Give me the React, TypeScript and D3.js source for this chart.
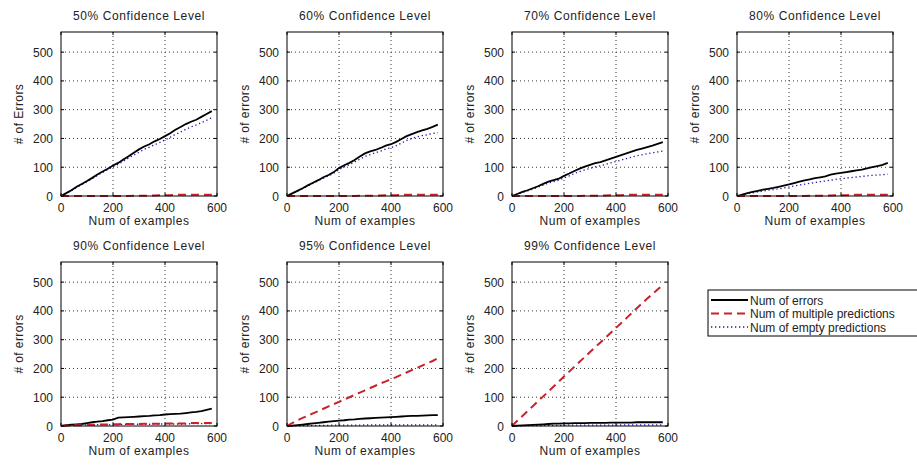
import React from "react";
import * as d3 from "d3";

// x positions (number of examples)
const examples = d3.range(0, 600, 20);

const levels = ["50%", "60%", "70%", "80%", "90%", "95%", "99%"];
const yLabels = ["# of Errors", "# of errors", "# of errors", "# of errors", "# of errors", "# of errors", "# of errors"];

const errors50 = [0, 10, 20, 32, 42, 52, 63, 75, 85, 95, 106, 115, 127, 138, 150, 162, 172, 180, 190, 198, 208, 218, 230, 240, 250, 258, 265, 275, 285, 295];
const multiple50 = [0, 0, 0, 0, 0, 0, 0, 0, 0, 0, 0, 0, 0, 0, 1, 1, 1, 1, 2, 3, 3, 3, 4, 4, 4, 4, 4, 4, 4, 4];
const empty50 = [0, 9, 19, 30, 40, 50, 60, 72, 82, 92, 102, 110, 121, 132, 142, 152, 162, 170, 178, 186, 195, 204, 214, 222, 232, 240, 247, 255, 263, 272];

const errors60 = [0, 9, 18, 27, 37, 46, 55, 65, 73, 83, 97, 107, 115, 125, 137, 148, 155, 160, 167, 175, 180, 188, 198, 208, 215, 222, 228, 233, 240, 248];
const multiple60 = [0, 0, 0, 0, 0, 0, 0, 0, 0, 0, 0, 0, 0, 0, 1, 1, 1, 1, 2, 3, 3, 3, 4, 4, 4, 4, 4, 4, 4, 4];
const empty60 = [0, 8, 17, 26, 35, 44, 53, 62, 70, 79, 92, 101, 109, 118, 128, 137, 144, 150, 156, 163, 168, 175, 184, 193, 200, 206, 210, 213, 217, 220];

const errors70 = [0, 7, 14, 20, 27, 34, 42, 50, 55, 60, 70, 78, 87, 95, 102, 108, 114, 118, 124, 130, 136, 142, 148, 154, 160, 165, 170, 175, 181, 187];
const multiple70 = [0, 0, 0, 0, 0, 0, 0, 0, 0, 0, 0, 0, 0, 0, 1, 1, 1, 1, 2, 3, 3, 3, 4, 4, 4, 4, 4, 4, 4, 4];
const empty70 = [0, 6, 12, 18, 24, 31, 38, 45, 50, 55, 63, 70, 78, 85, 91, 96, 101, 105, 110, 115, 120, 125, 130, 135, 140, 143, 147, 150, 153, 156];

const errors80 = [0, 5, 10, 14, 18, 22, 25, 28, 32, 36, 40, 45, 50, 54, 58, 62, 65, 68, 74, 78, 80, 83, 86, 89, 92, 96, 100, 104, 108, 115];
const multiple80 = [0, 0, 0, 0, 0, 0, 0, 0, 0, 0, 0, 0, 0, 0, 1, 1, 1, 1, 2, 3, 3, 3, 4, 4, 4, 4, 4, 4, 4, 4];
const empty80 = [0, 4, 8, 11, 14, 17, 20, 22, 25, 28, 31, 35, 38, 41, 44, 47, 50, 52, 55, 58, 60, 62, 64, 66, 68, 70, 72, 73, 74, 76];

const errors90 = [0, 3, 5, 6, 7, 10, 13, 15, 17, 20, 22, 29, 30, 31, 32, 33, 34, 35, 37, 38, 40, 41, 42, 43, 45, 47, 49, 52, 56, 60];
const multiple90 = [0, 1, 2, 3, 3, 4, 4, 5, 5, 5, 6, 6, 7, 7, 7, 7, 8, 8, 8, 8, 9, 9, 9, 9, 9, 10, 10, 10, 10, 10];
const empty90 = [0, 1, 2, 3, 4, 4, 4, 5, 5, 5, 5, 5, 6, 6, 6, 6, 6, 6, 7, 7, 7, 7, 7, 7, 7, 8, 8, 8, 8, 8];

const errors95 = [0, 1, 3, 5, 7, 9, 11, 13, 15, 17, 19, 20, 22, 23, 25, 26, 27, 28, 29, 30, 31, 32, 33, 34, 35, 35, 36, 37, 38, 38];
const multiple95 = [0, 10, 20, 28, 36, 44, 52, 60, 68, 76, 84, 92, 100, 108, 116, 124, 132, 140, 148, 155, 163, 170, 178, 186, 194, 202, 210, 218, 226, 235];
const empty95 = [0, 0, 1, 1, 1, 2, 2, 2, 2, 3, 3, 3, 3, 3, 3, 4, 4, 4, 4, 4, 4, 4, 4, 4, 4, 4, 4, 4, 4, 4];

const errors99 = [0, 1, 2, 3, 4, 5, 6, 7, 8, 8, 9, 9, 10, 10, 10, 11, 11, 11, 11, 12, 12, 12, 12, 12, 13, 13, 13, 13, 13, 13];
const multiple99 = [0, 18, 35, 52, 69, 86, 103, 120, 137, 154, 172, 189, 206, 223, 240, 257, 274, 290, 307, 324, 341, 358, 375, 392, 409, 426, 443, 458, 474, 490];
const empty99 = [0, 0, 1, 1, 1, 1, 2, 2, 2, 2, 2, 3, 3, 3, 3, 3, 3, 3, 3, 3, 3, 4, 4, 4, 4, 4, 4, 4, 4, 4];

const errorSeries = [errors50, errors60, errors70, errors80, errors90, errors95, errors99];
const multipleSeries = [multiple50, multiple60, multiple70, multiple80, multiple90, multiple95, multiple99];
const emptySeries = [empty50, empty60, empty70, empty80, empty90, empty95, empty99];

const legendLabels = ["Num of errors", "Num of multiple predictions", "Num of empty predictions"];
const xTicks = [0, 200, 400, 600];
const yTicks = [0, 100, 200, 300, 400, 500];

const font = "'Liberation Sans', Arial, sans-serif";
const styles = [
  { stroke: "#000", width: 1.8, dash: "none" },
  { stroke: "#c8232c", width: 2, dash: "8,5" },
  { stroke: "#1c1ca8", width: 1.3, dash: "1.3,2.7" },
];

const lefts = [61, 287, 512, 737];
const tops = [32, 262];
const W = 156;
const H = 164;

function Panel({ i }: { i: number }) {
  const left = lefts[i % 4];
  const top = tops[Math.floor(i / 4)];
  const x = d3.scaleLinear().domain([0, 600]).range([0, W]);
  const y = d3.scaleLinear().domain([0, 570]).range([H, 0]);
  const series = [errorSeries[i], multipleSeries[i], emptySeries[i]];
  const line = d3
    .line<number>()
    .x((_, k) => x(examples[k]))
    .y((v) => y(v));
  return (
    <g transform={`translate(${left},${top})`} fontFamily={font} fontSize={12} fill="#222">
      <rect width={W} height={H} fill="#fff" />
      {xTicks.slice(1, -1).map((t) => (
        <line key={"gx" + t} x1={x(t)} x2={x(t)} y1={0} y2={H} stroke="#333" strokeWidth={1} strokeDasharray="1,3" />
      ))}
      {yTicks.slice(1).map((t) => (
        <line key={"gy" + t} x1={0} x2={W} y1={y(t)} y2={y(t)} stroke="#333" strokeWidth={1} strokeDasharray="1,3" />
      ))}
      {[2, 0, 1].map((s) => (
        <path
          key={s}
          d={line(series[s]) || ""}
          fill="none"
          stroke={styles[s].stroke}
          strokeWidth={styles[s].width}
          strokeDasharray={styles[s].dash}
        />
      ))}
      <rect width={W} height={H} fill="none" stroke="#000" strokeWidth={1} />
      {xTicks.map((t) => (
        <g key={"tx" + t}>
          <line x1={x(t)} x2={x(t)} y1={H} y2={H - 3} stroke="#000" />
          <line x1={x(t)} x2={x(t)} y1={0} y2={3} stroke="#000" />
          <text x={x(t)} y={H + 16} textAnchor="middle">{t}</text>
        </g>
      ))}
      {yTicks.map((t) => (
        <g key={"ty" + t}>
          <line x1={0} x2={3} y1={y(t)} y2={y(t)} stroke="#000" />
          <line x1={W} x2={W - 3} y1={y(t)} y2={y(t)} stroke="#000" />
          <text x={-8} y={y(t) + 4.5} textAnchor="end">{t}</text>
        </g>
      ))}
      <text x={W / 2} y={-12} textAnchor="middle" letterSpacing={0.6}>{levels[i] + " Confidence Level"}</text>
      <text x={W / 2} y={H + 29} textAnchor="middle" letterSpacing={0.5}>Num of examples</text>
      <text transform={`translate(-38,${H / 2}) rotate(-90)`} textAnchor="middle" letterSpacing={0.4}>{yLabels[i]}</text>
    </g>
  );
}

export default function App() {
  return (
    <svg width={917} height={465} style={{ position: "absolute", left: 0, top: 0, background: "#fff" }}>
      <rect width={917} height={465} fill="#fff" />
      {levels.map((_, i) => (
        <Panel key={i} i={i} />
      ))}
      <g fontFamily={font} fontSize={12} fill="#222">
        <rect x={708} y={290} width={220} height={46} fill="#fff" stroke="#000" />
        {legendLabels.map((lab, k) => (
          <g key={lab}>
            <line x1={711} x2={748} y1={300 + k * 13.5} y2={300 + k * 13.5} stroke={styles[k].stroke} strokeWidth={styles[k].width} strokeDasharray={styles[k].dash} />
            <text x={750} y={304.5 + k * 13.5}>{lab}</text>
          </g>
        ))}
      </g>
    </svg>
  );
}
